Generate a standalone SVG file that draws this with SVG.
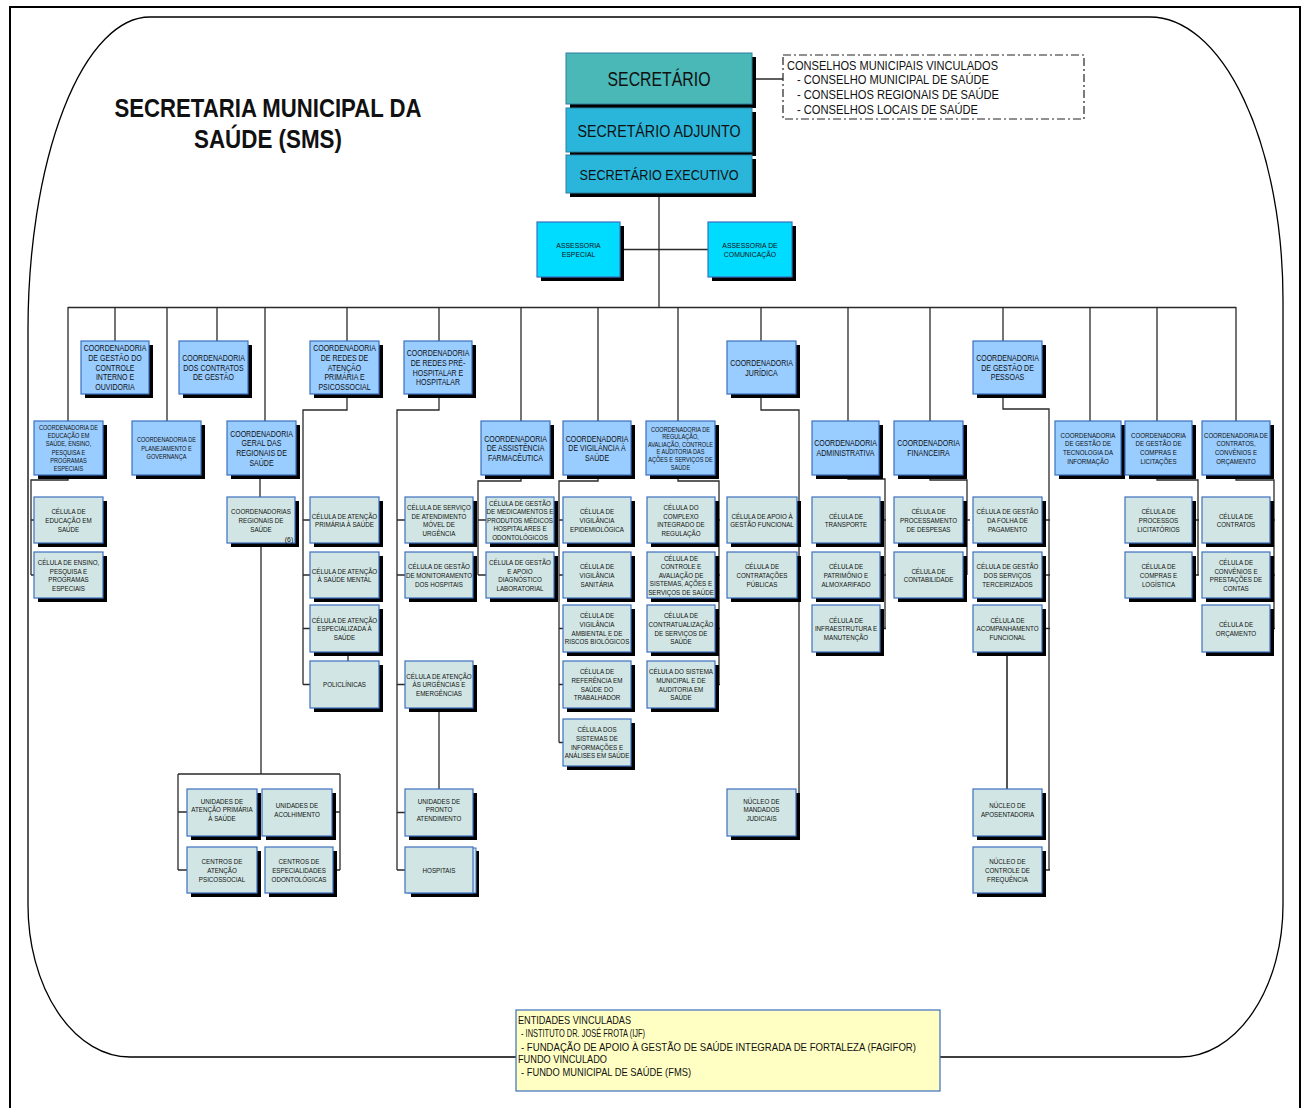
<svg xmlns="http://www.w3.org/2000/svg" width="1304" height="1108" viewBox="0 0 1304 1108">
<style>
.sh{fill:#000}
.co{fill:#99ccff;stroke:#3b6fbf;stroke-width:1.2}
.ce{fill:#d1e6e4;stroke:#3b6fbf;stroke-width:1.2}
.as{fill:#00dcff;stroke:#3b6fbf;stroke-width:1.2}
.ln{fill:none;stroke:#2a2a2a;stroke-width:1.3}
.t{font-family:"Liberation Sans",Arial,sans-serif;fill:#111;text-anchor:middle}
.l{font-family:"Liberation Sans",Arial,sans-serif;fill:#111;text-anchor:start}
.f9{font-size:9px}
.f8{font-size:8px}
.f7{font-size:7.2px}
.f75{font-size:7.5px}
</style>
<rect x="0" y="0" width="1304" height="1108" fill="#fff"/>
<path d="M10,1108V7H1300V1108" fill="none" stroke="#000" stroke-width="2"/>
<path d="M516,1057H130A102,152 0 0 1 28,905V330A122,313 0 0 1 150,17H1150A133,283 0 0 1 1283,300V905A103,152 0 0 1 1180,1057H940" fill="none" stroke="#000" stroke-width="1.3"/>

<g id="title">
<text class="t" x="268" y="117" font-size="25" font-weight="bold" textLength="307" lengthAdjust="spacingAndGlyphs">SECRETARIA MUNICIPAL DA</text>
<text class="t" x="268" y="147.5" font-size="25" font-weight="bold" textLength="148" lengthAdjust="spacingAndGlyphs">SAÚDE (SMS)</text>
</g>

<g id="connectors" class="ln">
<path d="M752,79H783 M659,193V307 M621,249.5H708 M68,307.5H1236"/>
<path d="M115,307V341 M217,307V341 M347,307V341 M439,307V341 M761,307V341 M1003,307V341"/>
<path d="M68,307V421 M167,307V421 M265,307V421 M521,307V421 M598,307V421 M678,307V421 M848,307V421 M930,307V421 M1090,307V421 M1157,307V421 M1236,307V421"/>
<path d="M68,475V480H31V575 M31,520H34 M31,575H34"/>
<path d="M260,475V497 M261,543V774 M178,774H340 M178,774V870 M340,774V870 M178,812H187 M178,870H187 M332,812H340 M333,870H340"/>
<path d="M347,394V410H303V684.5 M303,520H310 M303,575H310 M303,628.5H310 M303,684.5H310 M348,652V661"/>
<path d="M439,394V410H397V870 M397,520H405 M397,575H405 M397,684.5H405 M397,812.5H405 M397,870H405 M439,708V789"/>
<path d="M521,475V481H478V575 M478,520H486 M478,575H486"/>
<path d="M598,475V481H559V742.5 M559,520H563 M559,575H563 M559,628.5H563 M559,684.5H563 M559,742.5H563"/>
<path d="M678,475V481H719V684.5 M715,520H720 M715,575H720 M715,628.5H720 M715,684.5H720"/>
<path d="M761,394V410H799V812.5 M797,520H799 M797,575H799 M797,812.5H799"/>
<path d="M848,475V479H885V628.5 M880,520H886 M880,575H886 M880,628.5H886"/>
<path d="M930,475V480H967V575 M963,520H970 M963,575H967"/>
<path d="M1003,394V409H1049V870 M1042,520H1050 M1042,575H1050 M1042,628.5H1050 M1042,870H1050"/>
<path d="M1007,652V789" stroke="#555" stroke-width="2"/>
<path d="M1157,475V480H1198V575 M1192,520H1199 M1192,575H1199"/>
<path d="M1236,475V480H1274V628.5 M1270,520H1275 M1270,575H1275 M1270,628.5H1275"/>
</g>

<g id="secretario"><rect class="sh" x="570" y="57" width="186" height="51"/><rect x="566" y="53" width="186" height="51" fill="#49b8b7" stroke="#2f7fa0"/><text class="t" x="659" y="86" font-size="19.5" textLength="103" lengthAdjust="spacingAndGlyphs">SECRETÁRIO</text></g>
<g id="adjunto"><rect class="sh" x="570" y="112" width="186" height="44"/><rect x="566" y="108" width="186" height="44" fill="#29b6da" stroke="#2f7fa0"/><text class="t" x="659" y="137" font-size="16.3" textLength="163" lengthAdjust="spacingAndGlyphs">SECRETÁRIO ADJUNTO</text></g>
<g id="executivo"><rect class="sh" x="570" y="159" width="186" height="38"/><rect x="566" y="155" width="186" height="38" fill="#29b6da" stroke="#2f7fa0"/><text class="t" x="659" y="180" font-size="15" textLength="159" lengthAdjust="spacingAndGlyphs">SECRETÁRIO EXECUTIVO</text></g>

<g id="conselhos">
<rect x="783" y="55" width="301" height="64" fill="none" stroke="#222" stroke-width="1.2" stroke-dasharray="8,3,2,3"/>
<text class="l" x="787" y="69.5" font-size="12.5" textLength="211" lengthAdjust="spacingAndGlyphs">CONSELHOS MUNICIPAIS VINCULADOS</text>
<text class="l" x="797" y="84" font-size="12.5" textLength="192" lengthAdjust="spacingAndGlyphs">- CONSELHO MUNICIPAL DE SAÚDE</text>
<text class="l" x="797" y="99" font-size="12.5" textLength="202" lengthAdjust="spacingAndGlyphs">- CONSELHOS REGIONAIS DE SAÚDE</text>
<text class="l" x="797" y="113.5" font-size="12.5" textLength="181" lengthAdjust="spacingAndGlyphs">- CONSELHOS LOCAIS DE SAÚDE</text>
</g>

<g id="assessoria-especial"><rect class="sh" x="541" y="226" width="83" height="55"/><rect class="as" x="537" y="222" width="83" height="55"/><text class="t f8" transform="translate(578.5,248) scale(.86,1)"><tspan x="0">ASSESSORIA</tspan><tspan x="0" dy="9.3">ESPECIAL</tspan></text></g>
<g id="assessoria-comunicacao"><rect class="sh" x="712" y="226" width="84" height="55"/><rect class="as" x="708" y="222" width="84" height="55"/><text class="t f8" transform="translate(750,248) scale(.86,1)"><tspan x="0">ASSESSORIA DE</tspan><tspan x="0" dy="9.3">COMUNICAÇÃO</tspan></text></g>

<!-- upper coordinators -->
<g id="c-controle"><rect class="sh" x="85" y="345" width="68" height="53"/><rect class="co" x="81" y="341" width="68" height="53"/><text class="t f9" transform="translate(115,351.3) scale(.78,1)"><tspan x="0">COORDENADORIA</tspan><tspan x="0" dy="9.7">DE GESTÃO DO</tspan><tspan x="0" dy="9.7">CONTROLE</tspan><tspan x="0" dy="9.7">INTERNO E</tspan><tspan x="0" dy="9.7">OUVIDORIA</tspan></text></g>
<g id="c-contratos-gestao"><rect class="sh" x="183" y="345" width="69" height="53"/><rect class="co" x="179" y="341" width="69" height="53"/><text class="t f9" transform="translate(213.5,361) scale(.78,1)"><tspan x="0">COORDENADORIA</tspan><tspan x="0" dy="9.7">DOS CONTRATOS</tspan><tspan x="0" dy="9.7">DE GESTÃO</tspan></text></g>
<g id="c-redes-atencao"><rect class="sh" x="314" y="345" width="69" height="53"/><rect class="co" x="310" y="341" width="69" height="53"/><text class="t f9" transform="translate(344.5,351.3) scale(.78,1)"><tspan x="0">COORDENADORIA</tspan><tspan x="0" dy="9.7">DE REDES DE</tspan><tspan x="0" dy="9.7">ATENÇÃO</tspan><tspan x="0" dy="9.7">PRIMÁRIA E</tspan><tspan x="0" dy="9.7">PSICOSSOCIAL</tspan></text></g>
<g id="c-redes-pre"><rect class="sh" x="408" y="345" width="68" height="53"/><rect class="co" x="404" y="341" width="68" height="53"/><text class="t f9" transform="translate(438,356.2) scale(.78,1)"><tspan x="0">COORDENADORIA</tspan><tspan x="0" dy="9.7">DE REDES PRÉ-</tspan><tspan x="0" dy="9.7">HOSPITALAR E</tspan><tspan x="0" dy="9.7">HOSPITALAR</tspan></text></g>
<g id="c-juridica"><rect class="sh" x="731" y="345" width="69" height="53"/><rect class="co" x="727" y="341" width="69" height="53"/><text class="t f9" transform="translate(761.5,365.9) scale(.78,1)"><tspan x="0">COORDENADORIA</tspan><tspan x="0" dy="9.7">JURÍDICA</tspan></text></g>
<g id="c-pessoas"><rect class="sh" x="977" y="345" width="69" height="53"/><rect class="co" x="973" y="341" width="69" height="53"/><text class="t f9" transform="translate(1007.5,361) scale(.78,1)"><tspan x="0">COORDENADORIA</tspan><tspan x="0" dy="9.7">DE GESTÃO DE</tspan><tspan x="0" dy="9.7">PESSOAS</tspan></text></g>

<!-- lower coordinators -->
<g id="c-educacao"><rect class="sh" x="38" y="425" width="69" height="54"/><rect class="co" x="34" y="421" width="69" height="54"/><text class="t f7" transform="translate(68.5,430.1) scale(.78,1)"><tspan x="0">COORDENADORIA DE</tspan><tspan x="0" dy="8.2">EDUCAÇÃO EM</tspan><tspan x="0" dy="8.2">SAÚDE, ENSINO,</tspan><tspan x="0" dy="8.2">PESQUISA E</tspan><tspan x="0" dy="8.2">PROGRAMAS</tspan><tspan x="0" dy="8.2">ESPECIAIS</tspan></text></g>
<g id="c-planejamento"><rect class="sh" x="136" y="425" width="69" height="54"/><rect class="co" x="132" y="421" width="69" height="54"/><text class="t f7" transform="translate(166.5,442.4) scale(.78,1)"><tspan x="0">COORDENADORIA DE</tspan><tspan x="0" dy="8.2">PLANEJAMENTO E</tspan><tspan x="0" dy="8.2">GOVERNANÇA</tspan></text></g>
<g id="c-regionais"><rect class="sh" x="231" y="425" width="69" height="54"/><rect class="co" x="227" y="421" width="69" height="54"/><text class="t f9" transform="translate(261.5,436.7) scale(.78,1)"><tspan x="0">COORDENADORIA</tspan><tspan x="0" dy="9.7">GERAL DAS</tspan><tspan x="0" dy="9.7">REGIONAIS DE</tspan><tspan x="0" dy="9.7">SAÚDE</tspan></text></g>
<g id="c-farmaceutica"><rect class="sh" x="485" y="425" width="69" height="54"/><rect class="co" x="481" y="421" width="69" height="54"/><text class="t f9" transform="translate(515.5,441.5) scale(.78,1)"><tspan x="0">COORDENADORIA</tspan><tspan x="0" dy="9.7">DE ASSISTÊNCIA</tspan><tspan x="0" dy="9.7">FARMACÊUTICA</tspan></text></g>
<g id="c-vigilancia"><rect class="sh" x="567" y="425" width="68" height="54"/><rect class="co" x="563" y="421" width="68" height="54"/><text class="t f9" transform="translate(597,441.5) scale(.78,1)"><tspan x="0">COORDENADORIA</tspan><tspan x="0" dy="9.7">DE VIGILÂNCIA À</tspan><tspan x="0" dy="9.7">SAÚDE</tspan></text></g>
<g id="c-regulacao"><rect class="sh" x="650" y="425" width="69" height="54"/><rect class="co" x="646" y="421" width="69" height="54"/><text class="t" font-size="7" transform="translate(680.5,431.6) scale(.8,1)"><tspan x="0">COORDENADORIA DE</tspan><tspan x="0" dy="7.6">REGULAÇÃO,</tspan><tspan x="0" dy="7.6">AVALIAÇÃO, CONTROLE</tspan><tspan x="0" dy="7.6">E AUDITORIA DAS</tspan><tspan x="0" dy="7.6">AÇÕES E SERVIÇOS DE</tspan><tspan x="0" dy="7.6">SAÚDE</tspan></text></g>
<g id="c-administrativa"><rect class="sh" x="816" y="425" width="67" height="54"/><rect class="co" x="812" y="421" width="67" height="54"/><text class="t f9" transform="translate(845.5,446.4) scale(.78,1)"><tspan x="0">COORDENADORIA</tspan><tspan x="0" dy="9.7">ADMINISTRATIVA</tspan></text></g>
<g id="c-financeira"><rect class="sh" x="898" y="425" width="69" height="54"/><rect class="co" x="894" y="421" width="69" height="54"/><text class="t f9" transform="translate(928.5,446.4) scale(.78,1)"><tspan x="0">COORDENADORIA</tspan><tspan x="0" dy="9.7">FINANCEIRA</tspan></text></g>
<g id="c-ti"><rect class="sh" x="1059" y="425" width="66" height="54"/><rect class="co" x="1055" y="421" width="66" height="54"/><text class="t f75" transform="translate(1088,437.8) scale(.82,1)"><tspan x="0">COORDENADORIA</tspan><tspan x="0" dy="8.6">DE GESTÃO DE</tspan><tspan x="0" dy="8.6">TECNOLOGIA DA</tspan><tspan x="0" dy="8.6">INFORMAÇÃO</tspan></text></g>
<g id="c-compras"><rect class="sh" x="1129" y="425" width="67" height="54"/><rect class="co" x="1125" y="421" width="67" height="54"/><text class="t f75" transform="translate(1158.5,437.8) scale(.82,1)"><tspan x="0">COORDENADORIA</tspan><tspan x="0" dy="8.6">DE GESTÃO DE</tspan><tspan x="0" dy="8.6">COMPRAS E</tspan><tspan x="0" dy="8.6">LICITAÇÕES</tspan></text></g>
<g id="c-contratos"><rect class="sh" x="1206" y="425" width="68" height="54"/><rect class="co" x="1202" y="421" width="68" height="54"/><text class="t f75" transform="translate(1236,437.8) scale(.81,1)"><tspan x="0">COORDENADORIA DE</tspan><tspan x="0" dy="8.6">CONTRATOS,</tspan><tspan x="0" dy="8.6">CONVÊNIOS E</tspan><tspan x="0" dy="8.6">ORÇAMENTO</tspan></text></g>

<!-- cells: educacao -->
<g id="cel-educacao"><rect class="sh" x="38" y="501" width="69" height="46"/><rect class="ce" x="34" y="497" width="69" height="46"/><text class="t f8" transform="translate(68.5,514.2) scale(.78,1)"><tspan x="0">CÉLULA DE</tspan><tspan x="0" dy="8.7">EDUCAÇÃO EM</tspan><tspan x="0" dy="8.7">SAÚDE</tspan></text></g>
<g id="cel-ensino"><rect class="sh" x="38" y="556" width="69" height="46"/><rect class="ce" x="34" y="552" width="69" height="46"/><text class="t f8" transform="translate(68.5,564.85) scale(.78,1)"><tspan x="0">CÉLULA DE ENSINO,</tspan><tspan x="0" dy="8.7">PESQUISA E</tspan><tspan x="0" dy="8.7">PROGRAMAS</tspan><tspan x="0" dy="8.7">ESPECIAIS</tspan></text></g>

<!-- regionais -->
<g id="coord-regionais"><rect class="sh" x="231" y="501" width="68" height="46"/><rect class="ce" x="227" y="497" width="68" height="46"/><text class="t f8" transform="translate(261,514.2) scale(.78,1)"><tspan x="0">COORDENADORIAS</tspan><tspan x="0" dy="8.7">REGIONAIS DE</tspan><tspan x="0" dy="8.7">SAÚDE</tspan></text><text class="t" font-size="7" x="289" y="541.5">(6)</text></g>
<g id="un-atencao-primaria"><rect class="sh" x="191" y="793" width="70" height="47"/><rect class="ce" x="187" y="789" width="70" height="47"/><text class="t f8" transform="translate(222,803.8) scale(.78,1)"><tspan x="0">UNIDADES DE</tspan><tspan x="0" dy="8.7">ATENÇÃO PRIMÁRIA</tspan><tspan x="0" dy="8.7">À SAÚDE</tspan></text></g>
<g id="un-acolhimento"><rect class="sh" x="266" y="793" width="70" height="47"/><rect class="ce" x="262" y="789" width="70" height="47"/><text class="t f8" transform="translate(297,808.15) scale(.78,1)"><tspan x="0">UNIDADES DE</tspan><tspan x="0" dy="8.7">ACOLHIMENTO</tspan></text></g>
<g id="un-caps"><rect class="sh" x="191" y="851" width="70" height="46"/><rect class="ce" x="187" y="847" width="70" height="46"/><text class="t f8" transform="translate(222,864.2) scale(.78,1)"><tspan x="0">CENTROS DE</tspan><tspan x="0" dy="8.7">ATENÇÃO</tspan><tspan x="0" dy="8.7">PSICOSSOCIAL</tspan></text></g>
<g id="un-ceo"><rect class="sh" x="269" y="851" width="68" height="46"/><rect class="ce" x="265" y="847" width="68" height="46"/><text class="t f8" transform="translate(299,864.2) scale(.78,1)"><tspan x="0">CENTROS DE</tspan><tspan x="0" dy="8.7">ESPECIALIDADES</tspan><tspan x="0" dy="8.7">ODONTOLÓGICAS</tspan></text></g>

<!-- atencao primaria -->
<g id="cel-aps"><rect class="sh" x="314" y="501" width="69" height="46"/><rect class="ce" x="310" y="497" width="69" height="46"/><text class="t f8" transform="translate(344.5,518.55) scale(.78,1)"><tspan x="0">CÉLULA DE ATENÇÃO</tspan><tspan x="0" dy="8.7">PRIMÁRIA À SAÚDE</tspan></text></g>
<g id="cel-saude-mental"><rect class="sh" x="314" y="556" width="69" height="46"/><rect class="ce" x="310" y="552" width="69" height="46"/><text class="t f8" transform="translate(344.5,573.55) scale(.78,1)"><tspan x="0">CÉLULA DE ATENÇÃO</tspan><tspan x="0" dy="8.7">À SAÚDE MENTAL</tspan></text></g>
<g id="cel-especializada"><rect class="sh" x="314" y="609" width="69" height="47"/><rect class="ce" x="310" y="605" width="69" height="47"/><text class="t f8" transform="translate(344.5,622.7) scale(.78,1)"><tspan x="0">CÉLULA DE ATENÇÃO</tspan><tspan x="0" dy="8.7">ESPECIALIZADA À</tspan><tspan x="0" dy="8.7">SAÚDE</tspan></text></g>
<g id="policlinicas"><rect class="sh" x="314" y="665" width="69" height="47"/><rect class="ce" x="310" y="661" width="69" height="47"/><text class="t f8" transform="translate(344.5,687.4) scale(.78,1)"><tspan x="0">POLICLÍNICAS</tspan></text></g>

<!-- pre-hospitalar -->
<g id="cel-samu"><rect class="sh" x="409" y="501" width="68" height="46"/><rect class="ce" x="405" y="497" width="68" height="46"/><text class="t f8" transform="translate(439,509.85) scale(.78,1)"><tspan x="0">CÉLULA DE SERVIÇO</tspan><tspan x="0" dy="8.7">DE ATENDIMENTO</tspan><tspan x="0" dy="8.7">MÓVEL DE</tspan><tspan x="0" dy="8.7">URGÊNCIA</tspan></text></g>
<g id="cel-monitoramento"><rect class="sh" x="409" y="556" width="68" height="46"/><rect class="ce" x="405" y="552" width="68" height="46"/><text class="t f8" transform="translate(439,569.2) scale(.78,1)"><tspan x="0">CÉLULA DE GESTÃO</tspan><tspan x="0" dy="8.7">DE MONITORAMENTO</tspan><tspan x="0" dy="8.7">DOS HOSPITAIS</tspan></text></g>
<g id="cel-urgencias"><rect class="sh" x="409" y="665" width="68" height="47"/><rect class="ce" x="405" y="661" width="68" height="47"/><text class="t f8" transform="translate(439,678.7) scale(.78,1)"><tspan x="0">CÉLULA DE ATENÇÃO</tspan><tspan x="0" dy="8.7">ÀS URGÊNCIAS E</tspan><tspan x="0" dy="8.7">EMERGÊNCIAS</tspan></text></g>
<g id="upa"><rect class="sh" x="409" y="793" width="68" height="47"/><rect class="ce" x="405" y="789" width="68" height="47"/><text class="t f8" transform="translate(439,803.8) scale(.78,1)"><tspan x="0">UNIDADES DE</tspan><tspan x="0" dy="8.7">PRONTO</tspan><tspan x="0" dy="8.7">ATENDIMENTO</tspan></text></g>
<g id="hospitais"><rect class="sh" x="411" y="851" width="68" height="46"/><rect x="408" y="848" width="68" height="45" fill="#d1e6e4" stroke="#3b6fbf"/><rect class="ce" x="405" y="847" width="68" height="46"/><text class="t f8" transform="translate(439,872.9) scale(.78,1)"><tspan x="0">HOSPITAIS</tspan></text></g>

<!-- farmaceutica -->
<g id="cel-medicamentos"><rect class="sh" x="490" y="501" width="68" height="46"/><rect class="ce" x="486" y="497" width="68" height="46"/><text class="t f8" transform="translate(520,506.1) scale(.78,1)"><tspan x="0">CÉLULA DE GESTÃO</tspan><tspan x="0" dy="8.4">DE MEDICAMENTOS E</tspan><tspan x="0" dy="8.4">PRODUTOS MÉDICOS</tspan><tspan x="0" dy="8.4">HOSPITALARES E</tspan><tspan x="0" dy="8.4">ODONTOLÓGICOS</tspan></text></g>
<g id="cel-laboratorial"><rect class="sh" x="490" y="556" width="68" height="46"/><rect class="ce" x="486" y="552" width="68" height="46"/><text class="t f8" transform="translate(520,564.85) scale(.78,1)"><tspan x="0">CÉLULA DE GESTÃO</tspan><tspan x="0" dy="8.7">E APOIO</tspan><tspan x="0" dy="8.7">DIAGNÓSTICO</tspan><tspan x="0" dy="8.7">LABORATORIAL</tspan></text></g>

<!-- vigilancia -->
<g id="cel-epidemiologica"><rect class="sh" x="567" y="501" width="68" height="46"/><rect class="ce" x="563" y="497" width="68" height="46"/><text class="t f8" transform="translate(597,514.2) scale(.78,1)"><tspan x="0">CÉLULA DE</tspan><tspan x="0" dy="8.7">VIGILÂNCIA</tspan><tspan x="0" dy="8.7">EPIDEMIOLÓGICA</tspan></text></g>
<g id="cel-sanitaria"><rect class="sh" x="567" y="556" width="68" height="46"/><rect class="ce" x="563" y="552" width="68" height="46"/><text class="t f8" transform="translate(597,569.2) scale(.78,1)"><tspan x="0">CÉLULA DE</tspan><tspan x="0" dy="8.7">VIGILÂNCIA</tspan><tspan x="0" dy="8.7">SANITÁRIA</tspan></text></g>
<g id="cel-ambiental"><rect class="sh" x="567" y="609" width="68" height="47"/><rect class="ce" x="563" y="605" width="68" height="47"/><text class="t f8" transform="translate(597,618.35) scale(.78,1)"><tspan x="0">CÉLULA DE</tspan><tspan x="0" dy="8.7">VIGILÂNCIA</tspan><tspan x="0" dy="8.7">AMBIENTAL E DE</tspan><tspan x="0" dy="8.7">RISCOS BIOLÓGICOS</tspan></text></g>
<g id="cel-trabalhador"><rect class="sh" x="567" y="665" width="68" height="47"/><rect class="ce" x="563" y="661" width="68" height="47"/><text class="t f8" transform="translate(597,674.35) scale(.78,1)"><tspan x="0">CÉLULA DE</tspan><tspan x="0" dy="8.7">REFERÊNCIA EM</tspan><tspan x="0" dy="8.7">SAÚDE DO</tspan><tspan x="0" dy="8.7">TRABALHADOR</tspan></text></g>
<g id="cel-sistemas-info"><rect class="sh" x="567" y="723" width="68" height="47"/><rect class="ce" x="563" y="719" width="68" height="47"/><text class="t f8" transform="translate(597,732.35) scale(.78,1)"><tspan x="0">CÉLULA DOS</tspan><tspan x="0" dy="8.7">SISTEMAS DE</tspan><tspan x="0" dy="8.7">INFORMAÇÕES E</tspan><tspan x="0" dy="8.7">ANÁLISES EM SAÚDE</tspan></text></g>

<!-- regulacao -->
<g id="cel-complexo"><rect class="sh" x="651" y="501" width="68" height="46"/><rect class="ce" x="647" y="497" width="68" height="46"/><text class="t f8" transform="translate(681,509.85) scale(.78,1)"><tspan x="0">CÉLULA DO</tspan><tspan x="0" dy="8.7">COMPLEXO</tspan><tspan x="0" dy="8.7">INTEGRADO DE</tspan><tspan x="0" dy="8.7">REGULAÇÃO</tspan></text></g>
<g id="cel-controle-avaliacao"><rect class="sh" x="651" y="556" width="68" height="46"/><rect class="ce" x="647" y="552" width="68" height="46"/><text class="t f8" transform="translate(681,561.1) scale(.78,1)"><tspan x="0">CÉLULA DE</tspan><tspan x="0" dy="8.4">CONTROLE E</tspan><tspan x="0" dy="8.4">AVALIAÇÃO DE</tspan><tspan x="0" dy="8.4">SISTEMAS, AÇÕES E</tspan><tspan x="0" dy="8.4">SERVIÇOS DE SAÚDE</tspan></text></g>
<g id="cel-contratualizacao"><rect class="sh" x="651" y="609" width="68" height="47"/><rect class="ce" x="647" y="605" width="68" height="47"/><text class="t f8" transform="translate(681,618.35) scale(.78,1)"><tspan x="0">CÉLULA DE</tspan><tspan x="0" dy="8.7">CONTRATUALIZAÇÃO</tspan><tspan x="0" dy="8.7">DE SERVIÇOS DE</tspan><tspan x="0" dy="8.7">SAÚDE</tspan></text></g>
<g id="cel-auditoria"><rect class="sh" x="651" y="665" width="68" height="47"/><rect class="ce" x="647" y="661" width="68" height="47"/><text class="t f8" transform="translate(681,674.35) scale(.78,1)"><tspan x="0">CÉLULA DO SISTEMA</tspan><tspan x="0" dy="8.7">MUNICIPAL E DE</tspan><tspan x="0" dy="8.7">AUDITORIA EM</tspan><tspan x="0" dy="8.7">SAÚDE</tspan></text></g>

<!-- juridica -->
<g id="cel-apoio-gestao"><rect class="sh" x="731" y="501" width="70" height="46"/><rect class="ce" x="727" y="497" width="70" height="46"/><text class="t f8" transform="translate(762,518.55) scale(.78,1)"><tspan x="0">CÉLULA DE APOIO À</tspan><tspan x="0" dy="8.7">GESTÃO FUNCIONAL</tspan></text></g>
<g id="cel-contratacoes"><rect class="sh" x="731" y="556" width="70" height="46"/><rect class="ce" x="727" y="552" width="70" height="46"/><text class="t f8" transform="translate(762,569.2) scale(.78,1)"><tspan x="0">CÉLULA DE</tspan><tspan x="0" dy="8.7">CONTRATAÇÕES</tspan><tspan x="0" dy="8.7">PÚBLICAS</tspan></text></g>
<g id="nucleo-mandados"><rect class="sh" x="731" y="793" width="69" height="47"/><rect class="ce" x="727" y="789" width="69" height="47"/><text class="t f8" transform="translate(761.5,803.8) scale(.78,1)"><tspan x="0">NÚCLEO DE</tspan><tspan x="0" dy="8.7">MANDADOS</tspan><tspan x="0" dy="8.7">JUDICIAIS</tspan></text></g>

<!-- administrativa -->
<g id="cel-transporte"><rect class="sh" x="816" y="501" width="68" height="46"/><rect class="ce" x="812" y="497" width="68" height="46"/><text class="t f8" transform="translate(846,518.55) scale(.78,1)"><tspan x="0">CÉLULA DE</tspan><tspan x="0" dy="8.7">TRANSPORTE</tspan></text></g>
<g id="cel-patrimonio"><rect class="sh" x="816" y="556" width="68" height="46"/><rect class="ce" x="812" y="552" width="68" height="46"/><text class="t f8" transform="translate(846,569.2) scale(.78,1)"><tspan x="0">CÉLULA DE</tspan><tspan x="0" dy="8.7">PATRIMÔNIO E</tspan><tspan x="0" dy="8.7">ALMOXARIFADO</tspan></text></g>
<g id="cel-infraestrutura"><rect class="sh" x="816" y="609" width="68" height="47"/><rect class="ce" x="812" y="605" width="68" height="47"/><text class="t f8" transform="translate(846,622.7) scale(.78,1)"><tspan x="0">CÉLULA DE</tspan><tspan x="0" dy="8.7">INFRAESTRUTURA E</tspan><tspan x="0" dy="8.7">MANUTENÇÃO</tspan></text></g>

<!-- financeira -->
<g id="cel-despesas"><rect class="sh" x="898" y="501" width="69" height="46"/><rect class="ce" x="894" y="497" width="69" height="46"/><text class="t f8" transform="translate(928.5,514.2) scale(.78,1)"><tspan x="0">CÉLULA DE</tspan><tspan x="0" dy="8.7">PROCESSAMENTO</tspan><tspan x="0" dy="8.7">DE DESPESAS</tspan></text></g>
<g id="cel-contabilidade"><rect class="sh" x="898" y="556" width="69" height="46"/><rect class="ce" x="894" y="552" width="69" height="46"/><text class="t f8" transform="translate(928.5,573.55) scale(.78,1)"><tspan x="0">CÉLULA DE</tspan><tspan x="0" dy="8.7">CONTABILIDADE</tspan></text></g>

<!-- pessoas -->
<g id="cel-folha"><rect class="sh" x="977" y="501" width="69" height="46"/><rect class="ce" x="973" y="497" width="69" height="46"/><text class="t f8" transform="translate(1007.5,514.2) scale(.78,1)"><tspan x="0">CÉLULA DE GESTÃO</tspan><tspan x="0" dy="8.7">DA FOLHA DE</tspan><tspan x="0" dy="8.7">PAGAMENTO</tspan></text></g>
<g id="cel-terceirizados"><rect class="sh" x="977" y="556" width="69" height="46"/><rect class="ce" x="973" y="552" width="69" height="46"/><text class="t f8" transform="translate(1007.5,569.2) scale(.78,1)"><tspan x="0">CÉLULA DE GESTÃO</tspan><tspan x="0" dy="8.7">DOS SERVIÇOS</tspan><tspan x="0" dy="8.7">TERCEIRIZADOS</tspan></text></g>
<g id="cel-acompanhamento"><rect class="sh" x="977" y="609" width="69" height="47"/><rect class="ce" x="973" y="605" width="69" height="47"/><text class="t f8" transform="translate(1007.5,622.7) scale(.78,1)"><tspan x="0">CÉLULA DE</tspan><tspan x="0" dy="8.7">ACOMPANHAMENTO</tspan><tspan x="0" dy="8.7">FUNCIONAL</tspan></text></g>
<g id="nucleo-aposentadoria"><rect class="sh" x="977" y="793" width="69" height="47"/><rect class="ce" x="973" y="789" width="69" height="47"/><text class="t f8" transform="translate(1007.5,808.15) scale(.78,1)"><tspan x="0">NÚCLEO DE</tspan><tspan x="0" dy="8.7">APOSENTADORIA</tspan></text></g>
<g id="nucleo-frequencia"><rect class="sh" x="977" y="851" width="69" height="46"/><rect class="ce" x="973" y="847" width="69" height="46"/><text class="t f8" transform="translate(1007.5,864.2) scale(.78,1)"><tspan x="0">NÚCLEO DE</tspan><tspan x="0" dy="8.7">CONTROLE DE</tspan><tspan x="0" dy="8.7">FREQUÊNCIA</tspan></text></g>

<!-- compras -->
<g id="cel-licitatorios"><rect class="sh" x="1129" y="501" width="67" height="46"/><rect class="ce" x="1125" y="497" width="67" height="46"/><text class="t f8" transform="translate(1158.5,514.2) scale(.78,1)"><tspan x="0">CÉLULA DE</tspan><tspan x="0" dy="8.7">PROCESSOS</tspan><tspan x="0" dy="8.7">LICITATÓRIOS</tspan></text></g>
<g id="cel-logistica"><rect class="sh" x="1129" y="556" width="67" height="46"/><rect class="ce" x="1125" y="552" width="67" height="46"/><text class="t f8" transform="translate(1158.5,569.2) scale(.78,1)"><tspan x="0">CÉLULA DE</tspan><tspan x="0" dy="8.7">COMPRAS E</tspan><tspan x="0" dy="8.7">LOGÍSTICA</tspan></text></g>

<!-- contratos -->
<g id="cel-contratos"><rect class="sh" x="1206" y="501" width="68" height="46"/><rect class="ce" x="1202" y="497" width="68" height="46"/><text class="t f8" transform="translate(1236,518.55) scale(.78,1)"><tspan x="0">CÉLULA DE</tspan><tspan x="0" dy="8.7">CONTRATOS</tspan></text></g>
<g id="cel-convenios"><rect class="sh" x="1206" y="556" width="68" height="46"/><rect class="ce" x="1202" y="552" width="68" height="46"/><text class="t f8" transform="translate(1236,564.85) scale(.78,1)"><tspan x="0">CÉLULA DE</tspan><tspan x="0" dy="8.7">CONVÊNIOS E</tspan><tspan x="0" dy="8.7">PRESTAÇÕES DE</tspan><tspan x="0" dy="8.7">CONTAS</tspan></text></g>
<g id="cel-orcamento"><rect class="sh" x="1206" y="609" width="68" height="47"/><rect class="ce" x="1202" y="605" width="68" height="47"/><text class="t f8" transform="translate(1236,627.05) scale(.78,1)"><tspan x="0">CÉLULA DE</tspan><tspan x="0" dy="8.7">ORÇAMENTO</tspan></text></g>

<g id="entidades">
<rect x="516" y="1010" width="424" height="81" fill="#ffffc4" stroke="#3b6fbf" stroke-width="1.2"/>
<text class="l" x="518" y="1024" font-size="11" textLength="113" lengthAdjust="spacingAndGlyphs">ENTIDADES VINCULADAS</text>
<text class="l" x="521" y="1037" font-size="11" textLength="124" lengthAdjust="spacingAndGlyphs">- INSTITUTO DR. JOSÉ FROTA (IJF)</text>
<text class="l" x="521" y="1050.5" font-size="11" textLength="395" lengthAdjust="spacingAndGlyphs">- FUNDAÇÃO DE APOIO À GESTÃO DE SAÚDE INTEGRADA DE FORTALEZA (FAGIFOR)</text>
<text class="l" x="518" y="1063" font-size="11" textLength="89" lengthAdjust="spacingAndGlyphs">FUNDO VINCULADO</text>
<text class="l" x="521" y="1076" font-size="11" textLength="170" lengthAdjust="spacingAndGlyphs">- FUNDO MUNICIPAL DE SAÚDE (FMS)</text>
</g>
</svg>
